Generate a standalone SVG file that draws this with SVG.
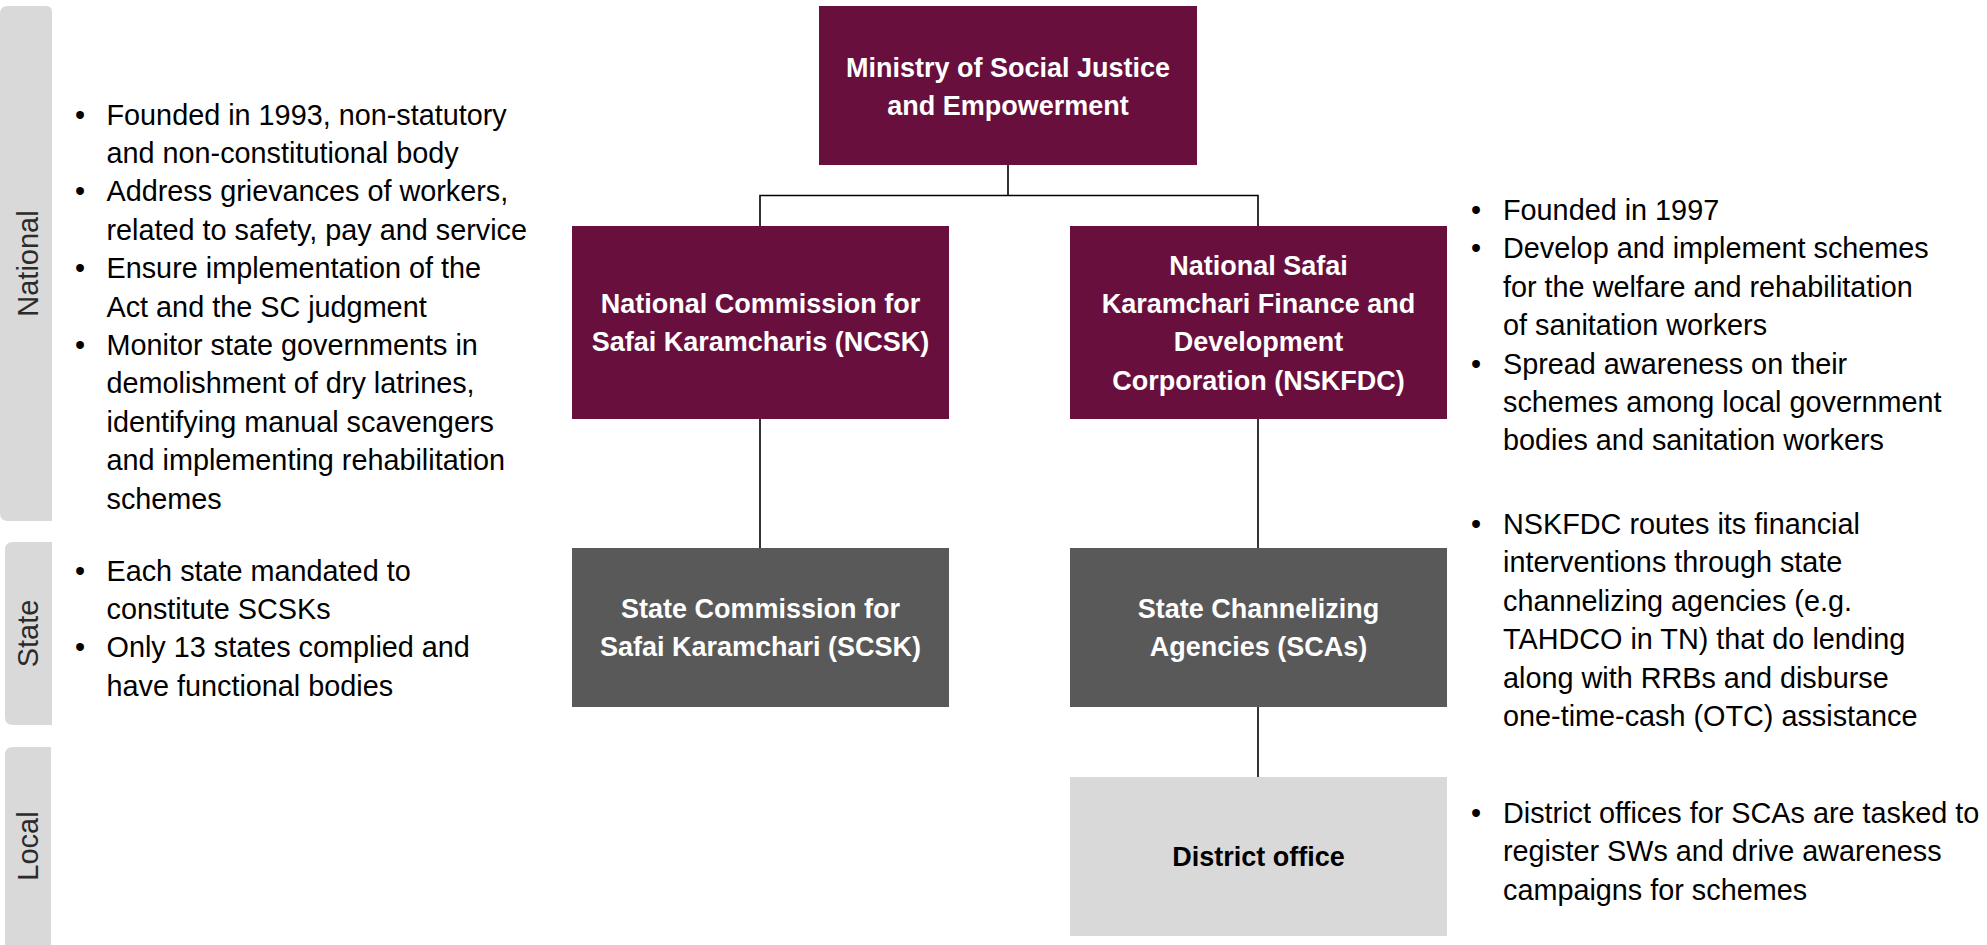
<svg xmlns="http://www.w3.org/2000/svg" width="1987" height="945" viewBox="0 0 1987 945">
<style>
.maroon{fill:#680f3e}
.dark{fill:#595959}
.light{fill:#d9d9d9}
.side{fill:#d9d9d9}
.bt{font-family:"Liberation Sans",Arial,sans-serif;font-weight:bold;font-size:27px;fill:#ffffff;text-anchor:middle}
.bk{fill:#000000}
.body{font-family:"Liberation Sans",Arial,sans-serif;font-size:28.8px;fill:#000000}
.bul{font-family:"Liberation Sans",Arial,sans-serif;font-size:28.8px;fill:#000000;text-anchor:middle}
.lab{font-family:"Liberation Sans",Arial,sans-serif;font-size:29px;fill:#2b2b2b;text-anchor:middle}
.conn{stroke:#000000;stroke-width:1.6;fill:none}
</style>
<rect width="1987" height="945" fill="#ffffff"/>
<g id="sidebar">
  <g id="band-national">
    <path class="side" d="M0,14 Q0,6 8,6 L46,6 Q52,6 52,12 L52,521 L8,521 Q0,521 0,513 Z"/>
    <text class="lab" transform="translate(38,263.5) rotate(-90)">National</text>
  </g>
  <g id="band-state">
    <path class="side" d="M5,550 Q5,542 13,542 L52,542 L52,725 L13,725 Q5,725 5,717 Z"/>
    <text class="lab" transform="translate(38,633.5) rotate(-90)">State</text>
  </g>
  <g id="band-local">
    <path class="side" d="M5,755 Q5,747 13,747 L51,747 L51,945 L5,945 Z"/>
    <text class="lab" transform="translate(38,846) rotate(-90)">Local</text>
  </g>
</g>
<g id="connectors">
  <path class="conn" d="M1008,165 V195.5 M760,226 V195.5 H1258 V226"/>
  <path class="conn" d="M760,419 V548"/>
  <path class="conn" d="M1258,419 V548"/>
  <path class="conn" d="M1258,707 V777"/>
</g>
<g id="node-ministry">
  <rect class="maroon" x="819" y="6" width="378" height="159"/>
  <text class="bt" x="1008" y="76.5">Ministry of Social Justice</text>
  <text class="bt" x="1008" y="115">and Empowerment</text>
</g>
<g id="node-ncsk">
  <rect class="maroon" x="572" y="226" width="377" height="193"/>
  <text class="bt" x="760.5" y="313">National Commission for</text>
  <text class="bt" x="760.5" y="351.4">Safai Karamcharis (NCSK)</text>
</g>
<g id="node-nskfdc">
  <rect class="maroon" x="1070" y="226" width="377" height="193"/>
  <text class="bt" x="1258.5" y="274.6">National Safai</text>
  <text class="bt" x="1258.5" y="313">Karamchari Finance and</text>
  <text class="bt" x="1258.5" y="351.4">Development</text>
  <text class="bt" x="1258.5" y="389.8">Corporation (NSKFDC)</text>
</g>
<g id="node-scsk">
  <rect class="dark" x="572" y="548" width="377" height="159"/>
  <text class="bt" x="760.5" y="618">State Commission for</text>
  <text class="bt" x="760.5" y="656.4">Safai Karamchari (SCSK)</text>
</g>
<g id="node-scas">
  <rect class="dark" x="1070" y="548" width="377" height="159"/>
  <text class="bt" x="1258.5" y="618">State Channelizing</text>
  <text class="bt" x="1258.5" y="656.4">Agencies (SCAs)</text>
</g>
<g id="node-district">
  <rect class="light" x="1070" y="777" width="377" height="159"/>
  <text class="bt bk" x="1258.5" y="866">District office</text>
</g>
<g id="notes-ncsk">
  <text class="bul" x="80" y="124.5">•</text>
  <text class="body" x="106.5" y="124.5">Founded in 1993, non-statutory</text>
  <text class="body" x="106.5" y="162.9">and non-constitutional body</text>
  <text class="bul" x="80" y="201.3">•</text>
  <text class="body" x="106.5" y="201.3">Address grievances of workers,</text>
  <text class="body" x="106.5" y="239.7">related to safety, pay and service</text>
  <text class="bul" x="80" y="278.1">•</text>
  <text class="body" x="106.5" y="278.1">Ensure implementation of the</text>
  <text class="body" x="106.5" y="316.5">Act and the SC judgment</text>
  <text class="bul" x="80" y="354.9">•</text>
  <text class="body" x="106.5" y="354.9">Monitor state governments in</text>
  <text class="body" x="106.5" y="393.3">demolishment of dry latrines,</text>
  <text class="body" x="106.5" y="431.7">identifying manual scavengers</text>
  <text class="body" x="106.5" y="470.1">and implementing rehabilitation</text>
  <text class="body" x="106.5" y="508.5">schemes</text>
</g>
<g id="notes-scsk">
  <text class="bul" x="80" y="580.5">•</text>
  <text class="body" x="106.5" y="580.5">Each state mandated to</text>
  <text class="body" x="106.5" y="619">constitute SCSKs</text>
  <text class="bul" x="80" y="657.4">•</text>
  <text class="body" x="106.5" y="657.4">Only 13 states complied and</text>
  <text class="body" x="106.5" y="695.8">have functional bodies</text>
</g>
<g id="notes-nskfdc">
  <text class="bul" x="1476" y="220">•</text>
  <text class="body" x="1503" y="220">Founded in 1997</text>
  <text class="bul" x="1476" y="258.4">•</text>
  <text class="body" x="1503" y="258.4">Develop and implement schemes</text>
  <text class="body" x="1503" y="296.8">for the welfare and rehabilitation</text>
  <text class="body" x="1503" y="335.2">of sanitation workers</text>
  <text class="bul" x="1476" y="373.6">•</text>
  <text class="body" x="1503" y="373.6">Spread awareness on their</text>
  <text class="body" x="1503" y="412">schemes among local government</text>
  <text class="body" x="1503" y="450.4">bodies and sanitation workers</text>
</g>
<g id="notes-scas">
  <text class="bul" x="1476" y="534">•</text>
  <text class="body" x="1503" y="534">NSKFDC routes its financial</text>
  <text class="body" x="1503" y="572.4">interventions through state</text>
  <text class="body" x="1503" y="610.8">channelizing agencies (e.g.</text>
  <text class="body" x="1503" y="649.2">TAHDCO in TN) that do lending</text>
  <text class="body" x="1503" y="687.6">along with RRBs and disburse</text>
  <text class="body" x="1503" y="726">one-time-cash (OTC) assistance</text>
</g>
<g id="notes-district">
  <text class="bul" x="1476" y="823">•</text>
  <text class="body" x="1503" y="823">District offices for SCAs are tasked to</text>
  <text class="body" x="1503" y="861.4">register SWs and drive awareness</text>
  <text class="body" x="1503" y="899.8">campaigns for schemes</text>
</g>
</svg>
